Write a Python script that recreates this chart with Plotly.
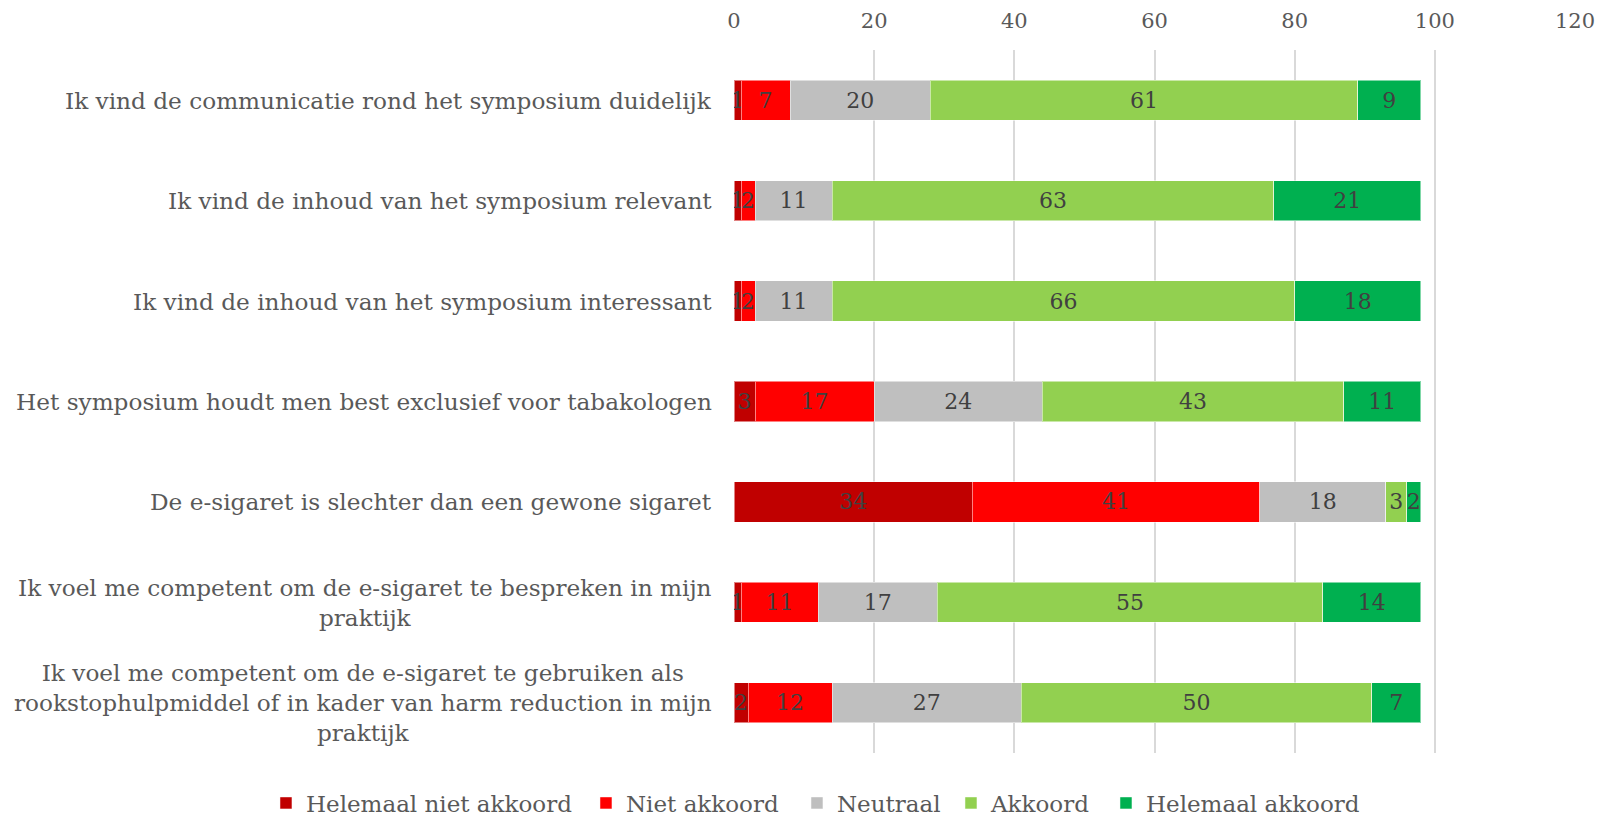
import plotly.graph_objects as go

categories = [
    "Ik vind de communicatie rond het symposium duidelijk",
    "Ik vind de inhoud van het symposium relevant",
    "Ik vind de inhoud van het symposium interessant",
    "Het symposium houdt men best exclusief voor tabakologen",
    "De e-sigaret is slechter dan een gewone sigaret",
    "Ik voel me competent om de e-sigaret te bespreken in mijn<br>praktijk",
    "Ik voel me competent om de e-sigaret te gebruiken als<br>rookstophulpmiddel of in kader van harm reduction in mijn<br>praktijk",
]
series_names = ["Helemaal niet akkoord", "Niet akkoord", "Neutraal", "Akkoord", "Helemaal akkoord"]
helemaal_niet = [1, 1, 1, 3, 34, 1, 2]
niet = [7, 2, 2, 17, 41, 11, 12]
neutraal = [20, 11, 11, 24, 18, 17, 27]
akkoord = [61, 63, 66, 43, 3, 55, 50]
helemaal = [9, 21, 18, 11, 2, 14, 7]
colors = ["#C00000", "#FF0000", "#BFBFBF", "#92D050", "#00B050"]
legend_widths = [275, 166, 109, 110, 220]
x_ticks = [0, 20, 40, 60, 80, 100, 120]

FONT = "DejaVu Serif"
keys = [f"c{i}" for i in range(len(categories))]

fig = go.Figure()
for name, vals, col, lw in zip(series_names, [helemaal_niet, niet, neutraal, akkoord, helemaal], colors, legend_widths):
    fig.add_trace(go.Bar(
        y=keys, x=vals, name=name, orientation="h",
        marker=dict(color=col, line=dict(color="rgba(255,255,255,0.5)", width=1)),
        text=[str(v) for v in vals], textposition="inside", insidetextanchor="middle",
        textangle=0, constraintext="none",
        textfont=dict(family=FONT, size=22, color="#404040"),
        hoverinfo="name+x", legendwidth=lw,
    ))

for k, c in zip(keys, categories):
    fig.add_annotation(
        x=0, xref="paper", y=k, yref="y", text=c, showarrow=False,
        xanchor="right", yanchor="middle", align="center", xshift=-20,
        font=dict(family=FONT, size=23.2, color="#595959"),
    )

fig.update_layout(
    width=1611, height=824,
    barmode="stack", bargap=0.6,
    plot_bgcolor="white", paper_bgcolor="white",
    margin=dict(l=726, r=44, t=42, b=79, autoexpand=False),
    font=dict(family=FONT, color="#595959"),
    legend=dict(orientation="h", xref="paper", x=-0.5565, xanchor="left",
                yref="paper", y=-0.0711, yanchor="middle",
                font=dict(family=FONT, size=23, color="#595959"),
                traceorder="normal", itemwidth=30),
    xaxis=dict(side="top", range=[0, 120], tickvals=x_ticks, showgrid=True,
               gridcolor="#D9D9D9", gridwidth=1.5, zeroline=False, showline=False,
               tickfont=dict(family=FONT, size=21, color="#595959"), ticks="",
               ticklabelstandoff=17, automargin=False),
    yaxis=dict(autorange="reversed", showticklabels=False, showgrid=False,
               zeroline=False, showline=False, ticks="", automargin=False),
)

fig.write_html("out.html")
